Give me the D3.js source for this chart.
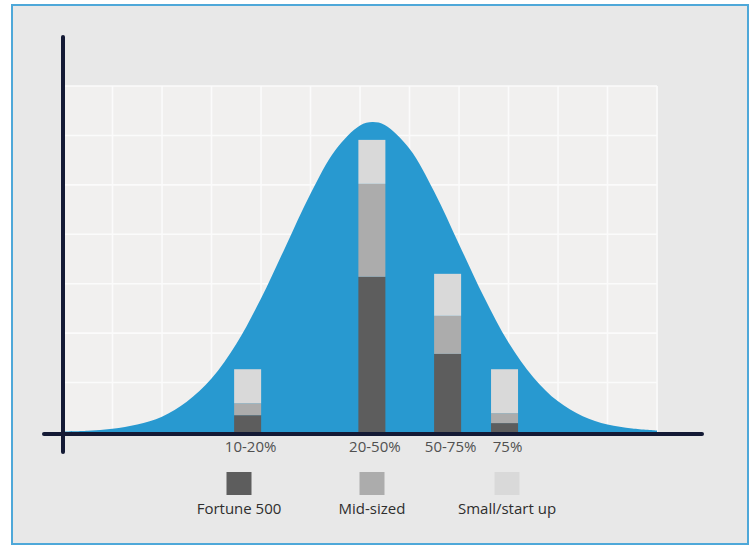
<!DOCTYPE html>
<html>
<head>
<meta charset="utf-8">
<script src="https://cdn.jsdelivr.net/npm/d3@7"></script>
<style>
  html, body { margin: 0; padding: 0; background: #ffffff; }
  svg { display: block; }
  text { font-family: "Open Sans", "Noto Sans", sans-serif; }
</style>
</head>
<body>
<svg id="chart" width="750" height="546"></svg>
<script>
// Bucket labels along the horizontal axis and where each bucket sits on it
const categories = ["10-20%", "20-50%", "50-75%", "75%"];
const categoryPos = [3.73, 6.24, 7.77, 8.92];

// Stacked company counts per bucket
const fortune500 = [3.4, 31.4, 15.8, 1.8];
const midSized   = [2.4, 18.8, 7.7, 2.0];
const smallStart = [6.9, 8.9, 8.5, 8.9];

const seriesNames = ["Fortune 500", "Mid-sized", "Small/start up"];

// Distribution curve behind the bars
const curveX = [0, 0.5, 1, 1.5, 2, 2.5, 3, 3.5, 4, 4.5, 5, 5.5, 6, 6.25, 6.5, 7, 7.5, 8, 8.5, 9, 9.5, 10, 10.5, 11, 11.5, 12];
const curveY = [0.1, 0.26, 0.65, 1.5, 3.1, 6.1, 10.8, 17.8, 27.0, 37.6, 48.2, 57.0, 62.0, 62.7, 62.1, 57.3, 48.6, 38.0, 27.4, 18.1, 11.1, 6.2, 3.2, 1.5, 0.7, 0.3];

// Grid ticks
const xGridTicks = d3.range(0, 13, 1);
const yGridTicks = d3.range(0, 71, 10);

const colors = ["#5d5d5d", "#acacac", "#d9d9d9"];

const svg = d3.select("#chart");

// page frame
svg.append("rect")
  .attr("x", 12).attr("y", 5).attr("width", 736).attr("height", 539)
  .attr("fill", "#e8e8e8").attr("stroke", "#4ea8d9").attr("stroke-width", 2);

const x = d3.scaleLinear().domain([0, 12]).range([63, 657]);
const y = d3.scaleLinear().domain([0, 70]).range([432, 86]);

// grid panel
svg.append("rect")
  .attr("x", x(0)).attr("y", y(70))
  .attr("width", x(12) - x(0)).attr("height", y(0) - y(70))
  .attr("fill", "#f1f0ef");

const grid = svg.append("g").attr("stroke", "#fbfbfb").attr("stroke-width", 1.6);
grid.selectAll("line.v").data(xGridTicks.slice(1)).join("line")
  .attr("class", "v")
  .attr("x1", d => x(d)).attr("x2", d => x(d))
  .attr("y1", y(70)).attr("y2", y(0));
grid.selectAll("line.h").data(yGridTicks.slice(1)).join("line")
  .attr("class", "h")
  .attr("x1", x(0)).attr("x2", x(12))
  .attr("y1", d => y(d)).attr("y2", d => y(d));

// bell curve
const curvePts = curveX.map((v, i) => [v, curveY[i]]);
const area = d3.area()
  .x(d => x(d[0]))
  .y0(y(0))
  .y1(d => y(d[1]))
  .curve(d3.curveCatmullRom);
svg.append("path").datum(curvePts)
  .attr("d", area)
  .attr("fill", "#2899d0");

// stacked bars
const rows = categories.map((c, i) => ({
  cat: c, pos: categoryPos[i],
  "Fortune 500": fortune500[i], "Mid-sized": midSized[i], "Small/start up": smallStart[i]
}));
const stacked = d3.stack().keys(seriesNames)(rows);
const barW = 27;
svg.append("g").selectAll("g").data(stacked).join("g")
  .attr("fill", (d, i) => colors[i])
  .selectAll("rect").data(d => d).join("rect")
  .attr("x", d => x(d.data.pos) - barW / 2)
  .attr("width", barW)
  .attr("y", d => y(d[1]))
  .attr("height", d => y(d[0]) - y(d[1]));

// axes
const axisColor = "#141a35";
svg.append("line")
  .attr("x1", x(0)).attr("x2", x(0))
  .attr("y1", 37).attr("y2", 452)
  .attr("stroke", axisColor).attr("stroke-width", 4).attr("stroke-linecap", "round");
svg.append("line")
  .attr("x1", 44).attr("x2", 702)
  .attr("y1", 434).attr("y2", 434)
  .attr("stroke", axisColor).attr("stroke-width", 4).attr("stroke-linecap", "round");

// category labels
svg.append("g").selectAll("text").data(rows).join("text")
  .attr("x", d => x(d.pos) + 3)
  .attr("y", 452)
  .attr("text-anchor", "middle")
  .attr("font-size", 15)
  .attr("fill", "#505050")
  .text(d => d.cat);

// legend
const legendX = [239, 372, 507];
const legend = svg.append("g").selectAll("g").data(seriesNames).join("g")
  .attr("transform", (d, i) => `translate(${legendX[i]},0)`);
legend.append("rect")
  .attr("x", -12.5).attr("y", 472).attr("width", 25).attr("height", 23)
  .attr("fill", (d, i) => colors[i]);
legend.append("text")
  .attr("y", 514)
  .attr("text-anchor", "middle")
  .attr("font-size", 15)
  .attr("fill", "#2e2e2e")
  .text(d => d);
</script>
</body>
</html>
